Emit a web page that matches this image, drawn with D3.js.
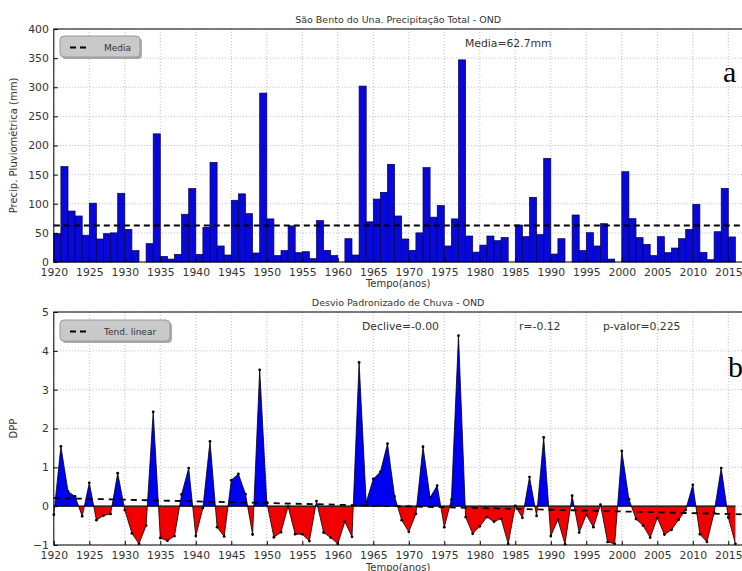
<!DOCTYPE html>
<html>
<head>
<meta charset="utf-8">
<script src="https://cdn.jsdelivr.net/npm/d3@7"></script>
<style>
  html, body { margin: 0; padding: 0; background: #fff; }
  svg { display: block; font-family: "DejaVu Sans", sans-serif; }
</style>
</head>
<body>
<div id="chart"></div>
<script>
// anos 1920..2016
const years = d3.range(1920, 2017);

const precip = [
  48.6, 163.7, 87.5, 79, 46, 101, 39.5, 48.6, 50, 118,
  56, 19.5, 0, 31.5, 220, 9.7, 5, 13, 82, 126,
  13, 59.5, 171, 27.5, 12, 106, 117, 83, 15.5, 290,
  74, 11, 19.5, 62, 16, 17.7, 5.7, 71, 20, 11,
  0, 40, 12, 302, 69, 108, 119.6, 167.7, 79, 39.5,
  20, 50, 162, 77, 97, 27.5, 74, 347, 44.6, 17,
  29, 44.6, 36.6, 42, 0, 63.5, 43.5, 111, 47, 178,
  13.7, 40, 0, 80.7, 19.5, 50.3, 27.5, 65.8, 5, 0,
  155, 74.4, 41.8, 30.3, 10.9, 43.5, 16, 24, 40, 56,
  99, 16.6, 4, 52, 126.4, 43, 0
];

const dpp = [
  -0.22, 1.54, 0.38, 0.25, -0.26, 0.6, -0.36, -0.24, -0.2, 0.85,
  -0.1, -0.7, -0.97, -0.5, 2.43, -0.82, -0.89, -0.77, 0.3, 0.98,
  -0.77, -0.05, 1.67, -0.54, -0.78, 0.67, 0.83, 0.31, -0.73, 3.51,
  0.1, -0.8, -0.67, -0.01, -0.72, -0.72, -0.9, 0.13, -0.68, -0.81,
  -0.97, -0.4, -0.79, 3.7, 0.1, 0.7, 0.88, 1.61, 0.25, -0.36,
  -0.66, -0.2, 1.53, 0.22, 0.53, -0.54, 0.17, 4.39, -0.28, -0.71,
  -0.52, -0.28, -0.4, -0.32, -0.97, 0.01, -0.3, 0.75, -0.25, 1.77,
  -0.77, -0.35, -0.98, 0.27, -0.68, -0.22, -0.54, 0.04, -0.92, -0.97,
  1.42, 0.18, -0.33, -0.5, -0.81, -0.3, -0.73, -0.61, -0.35, -0.1,
  0.55, -0.72, -0.92, -0.17, 0.98, -0.29, -0.97
];

const media = 62.7;
const trendYears = [1920, 2017];
const trendValues = [0.21, -0.21];

const yTicksTop = [0, 50, 100, 150, 200, 250, 300, 350, 400];
const yTicksBot = [-1, 0, 1, 2, 3, 4, 5];
const xTicks = d3.range(1920, 2016, 5);

const width = 742, height = 571;
const left = 53.8, right = 742.5;

const svg = d3.select("#chart").append("svg")
  .attr("width", width)
  .attr("height", height);

const x = d3.scaleLinear().domain([1920, 2017]).range([left, right]);

function frame(g, y, yTicks, top, bottom, title) {
  // grade pontilhada
  g.append("g").selectAll("line.gx")
    .data(xTicks).enter().append("line")
    .attr("x1", d => x(d)).attr("x2", d => x(d))
    .attr("y1", top).attr("y2", bottom)
    .attr("stroke", "#aaa").attr("stroke-width", 0.8)
    .attr("stroke-dasharray", "1,2");
  g.append("g").selectAll("line.gy")
    .data(yTicks).enter().append("line")
    .attr("x1", left).attr("x2", right)
    .attr("y1", d => y(d)).attr("y2", d => y(d))
    .attr("stroke", "#aaa").attr("stroke-width", 0.8)
    .attr("stroke-dasharray", "1,2");

  g.append("text")
    .attr("x", (left + right) / 2)
    .attr("y", top - 6)
    .attr("text-anchor", "middle")
    .attr("font-size", 9.5)
    .attr("fill", "#333")
    .text(title);
}

function axes(g, y, yTicks, top, bottom) {
  const ax = g.append("g").attr("transform", `translate(0,${bottom})`)
    .call(d3.axisBottom(x).tickValues(xTicks).tickFormat(d3.format("d"))
      .tickSizeInner(-4).tickSizeOuter(0).tickPadding(6));
  ax.select(".domain").remove();
  const ay = g.append("g").attr("transform", `translate(${left},0)`)
    .call(d3.axisLeft(y).tickValues(yTicks).tickFormat(d3.format("d"))
      .tickSizeInner(-4).tickSizeOuter(0).tickPadding(5));
  ay.select(".domain").remove();
  [ax, ay].forEach(a => {
    a.selectAll("text").attr("font-size", 10.8).attr("fill", "#333")
      .attr("font-family", "DejaVu Sans");
    a.selectAll("line").attr("stroke", "#000");
  });
  g.append("rect")
    .attr("x", left).attr("y", top)
    .attr("width", right - left).attr("height", bottom - top)
    .attr("fill", "none").attr("stroke", "#000").attr("stroke-width", 1);
}

function legend(g, x0, y0, w, label) {
  g.append("rect")
    .attr("x", x0 + 2).attr("y", y0 + 2)
    .attr("width", w).attr("height", 21).attr("rx", 4)
    .attr("fill", "#888").attr("opacity", 0.7);
  g.append("rect")
    .attr("x", x0).attr("y", y0)
    .attr("width", w).attr("height", 21).attr("rx", 4)
    .attr("fill", "#c9c9c9").attr("stroke", "#9a9a9a");
  g.append("line")
    .attr("x1", x0 + 10).attr("x2", x0 + 29)
    .attr("y1", y0 + 11.5).attr("y2", y0 + 11.5)
    .attr("stroke", "#000").attr("stroke-width", 2)
    .attr("stroke-dasharray", "6,4");
  g.append("text")
    .attr("x", x0 + 44).attr("y", y0 + 15)
    .attr("font-size", 9).attr("fill", "#333")
    .text(label);
}

// ---------- painel a ----------
const topT = 29, topB = 262;
const yTop = d3.scaleLinear().domain([0, 400]).range([topB, topT]);
const gA = svg.append("g");
frame(gA, yTop, yTicksTop, topT, topB, "São Bento do Una. Precipitação Total - OND");

gA.append("g").selectAll("rect")
  .data(years.map((yr, i) => ({ yr, v: precip[i] })).filter(d => d.v > 0))
  .enter().append("rect")
  .attr("x", d => x(d.yr))
  .attr("width", d => x(d.yr + 1) - x(d.yr))
  .attr("y", d => yTop(d.v))
  .attr("height", d => yTop(0) - yTop(d.v))
  .attr("fill", "#0808d8")
  .attr("stroke", "#000050")
  .attr("stroke-width", 0.7);

gA.append("line")
  .attr("x1", left).attr("x2", right)
  .attr("y1", yTop(media)).attr("y2", yTop(media))
  .attr("stroke", "#000").attr("stroke-width", 1.8)
  .attr("stroke-dasharray", "6,4");

axes(gA, yTop, yTicksTop, topT, topB);
legend(gA, 60, 36, 80, "Media");

gA.append("text")
  .attr("x", 465).attr("y", 47)
  .attr("font-size", 10.8).attr("fill", "#333")
  .text("Media=" + media + "mm");

gA.append("text")
  .attr("transform", `translate(17,${(topT + topB) / 2}) rotate(-90)`)
  .attr("text-anchor", "middle")
  .attr("font-size", 10).attr("fill", "#333")
  .text("Precip. Pluviométrica (mm)");

gA.append("text")
  .attr("x", (left + right) / 2).attr("y", 287)
  .attr("text-anchor", "middle")
  .attr("font-size", 10).attr("fill", "#333")
  .text("Tempo(anos)");

gA.append("text")
  .attr("x", 723).attr("y", 82)
  .attr("font-family", "Liberation Serif, serif")
  .attr("font-size", 30).attr("fill", "#000")
  .text("a");

// ---------- painel b ----------
const botT = 312, botB = 545;
const yBot = d3.scaleLinear().domain([-1, 5]).range([botB, botT]);
const gB = svg.append("g");
frame(gB, yBot, yTicksBot, botT, botB, "Desvio Padronizado de Chuva - OND");

const series = years.map((yr, i) => ({ yr, v: dpp[i] }));
const defs = svg.append("defs");
defs.append("clipPath").attr("id", "pos").append("rect")
  .attr("x", left).attr("y", botT)
  .attr("width", right - left).attr("height", yBot(0) - botT);
defs.append("clipPath").attr("id", "neg").append("rect")
  .attr("x", left).attr("y", yBot(0))
  .attr("width", right - left).attr("height", botB - yBot(0));

const area = d3.area()
  .x(d => x(d.yr))
  .y0(yBot(0))
  .y1(d => yBot(d.v));

gB.append("path").datum(series)
  .attr("clip-path", "url(#pos)")
  .attr("d", area).attr("fill", "#0000f0");
gB.append("path").datum(series)
  .attr("clip-path", "url(#neg)")
  .attr("d", area).attr("fill", "#f00000");

gB.append("line")
  .attr("x1", x(1920)).attr("x2", x(2016))
  .attr("y1", yBot(0)).attr("y2", yBot(0))
  .attr("stroke", "#000").attr("stroke-width", 1.2);

gB.append("line")
  .attr("x1", x(trendYears[0])).attr("x2", x(trendYears[1]))
  .attr("y1", yBot(trendValues[0])).attr("y2", yBot(trendValues[1]))
  .attr("stroke", "#000").attr("stroke-width", 1.8)
  .attr("stroke-dasharray", "6,5");

gB.append("path").datum(series)
  .attr("fill", "none").attr("stroke", "#000").attr("stroke-width", 0.8)
  .attr("d", d3.line().x(d => x(d.yr)).y(d => yBot(d.v)));

gB.append("g").selectAll("circle")
  .data(series).enter().append("circle")
  .attr("cx", d => x(d.yr)).attr("cy", d => yBot(d.v))
  .attr("r", 1.4).attr("fill", "#000");

axes(gB, yBot, yTicksBot, botT, botB);
legend(gB, 60, 320, 110, "Tend. linear");

[["Declive=-0.00", 362], ["r=-0.12", 519], ["p-valor=0.225", 603]].forEach(([t, px]) => {
  gB.append("text")
    .attr("x", px).attr("y", 330)
    .attr("font-size", 10.8).attr("fill", "#333")
    .text(t);
});

gB.append("text")
  .attr("transform", `translate(17,${(botT + botB) / 2}) rotate(-90)`)
  .attr("text-anchor", "middle")
  .attr("font-size", 10).attr("fill", "#333")
  .text("DPP");

gB.append("text")
  .attr("x", (left + right) / 2).attr("y", 571)
  .attr("text-anchor", "middle")
  .attr("font-size", 10).attr("fill", "#333")
  .text("Tempo(anos)");

gB.append("text")
  .attr("x", 728).attr("y", 377)
  .attr("font-family", "Liberation Serif, serif")
  .attr("font-size", 30).attr("fill", "#000")
  .text("b");
</script>
</body>
</html>
